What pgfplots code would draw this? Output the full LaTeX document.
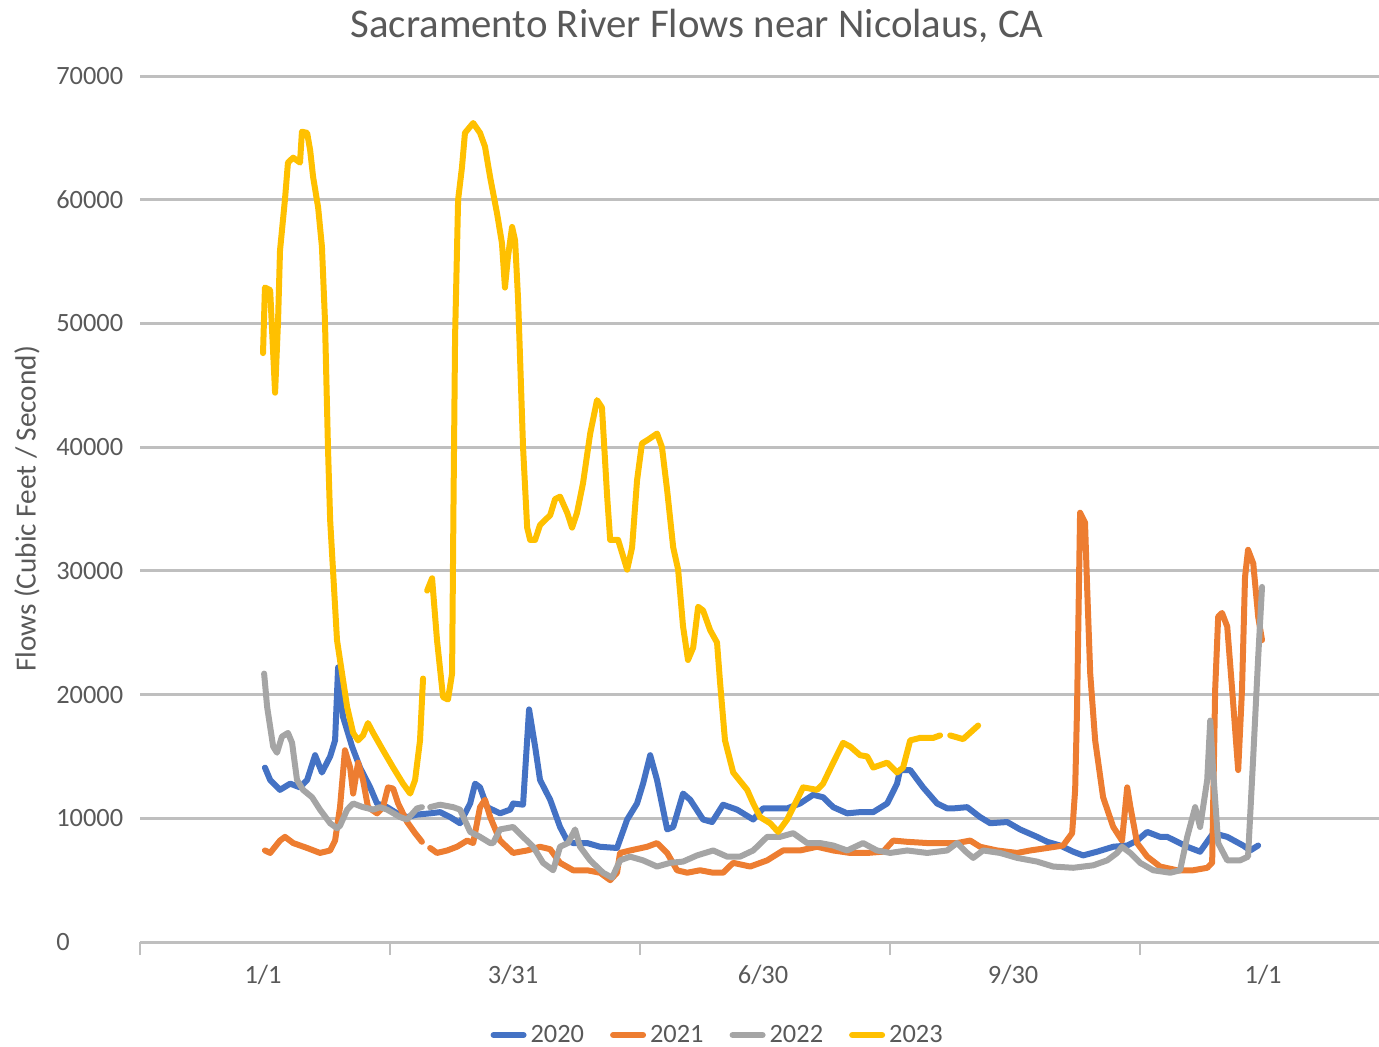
\documentclass[border=0pt]{standalone}
\usepackage{pgfplots}
\pgfplotsset{compat=1.18}
\usepackage{fontspec}
\setmainfont{Carlito}
\definecolor{c2020}{HTML}{4472C4}
\definecolor{c2021}{HTML}{ED7D31}
\definecolor{c2022}{HTML}{A5A5A5}
\definecolor{c2023}{HTML}{FFC000}
\definecolor{gridc}{HTML}{BFBFBF}
\definecolor{txt}{HTML}{595959}
\begin{document}
\begin{tikzpicture}
\useasboundingbox (0,0) rectangle (689.5pt,523pt);
\begin{axis}[
  at={(70pt,52pt)}, anchor=south west,
  width=619.5pt, height=433pt, scale only axis,
  xmin=-44.9, xmax=407.3, ymin=0, ymax=70000,
  axis x line*=bottom, axis y line*=left,
  y axis line style={draw=none},
  x axis line style={draw=gridc, line width=1.5pt, -},
  xtick={-44.9,46.4,137.6,228.9,320.1},
  xticklabels={},
  xtick style={draw=gridc, line width=1.2pt},
  tick align=outside,
  major tick length=6.5pt,
  ytick={0,10000,...,70000},
  ytick style={draw=none},
  ymajorgrids, grid style={draw=gridc, line width=1.5pt},
  extra x ticks={0,91.25,182.5,273.75,365},
  extra x tick labels={1/1,3/31,6/30,9/30,1/1},
  extra x tick style={major tick length=0pt, tick style={draw=none}},
  xticklabel style={anchor=center, yshift=-16.5pt},
  yticklabel style={anchor=west, xshift=-38.9pt},
  tick label style={font=\fontsize{13.2}{15}\selectfont, text=txt},
  /pgf/number format/assume math mode=true,
  /pgf/number format/1000 sep={},
  scaled y ticks=false,
  title={Sacramento River Flows near Nicolaus, CA},
  title style={at={(axis description cs:0.4496,1)}, anchor=center, yshift=19pt, font=\fontsize{20.4}{24}\selectfont, text=txt},
  ylabel={Flows (Cubic Feet / Second)},
  ylabel style={at={(axis description cs:-0.0912,0.5)}, anchor=center, font=\fontsize{14.6}{17}\selectfont, text=txt},
  legend style={at={(axis description cs:0.467,0)}, anchor=center, yshift=-46.5pt, draw=none, fill=none, font=\fontsize{13.2}{15}\selectfont, text=txt, /tikz/every even column/.append style={column sep=11pt}},
  legend columns=4,
  legend image code/.code={\draw[#1, line width=3pt] (0pt,0pt) -- (15pt,0pt);},
  unbounded coords=jump,
  every axis plot/.append style={line width=3pt, line join=round, line cap=round},
]
\addplot[c2020] coordinates {
(0.7,14100)(2.6,13100)(6.2,12300)(9.9,12800)(13.5,12500)(16.1,13100)(19.0,15100)(21.5,13700)(24.5,15000)(26.3,16300)(27.4,22200)(29.2,18200)(32.5,15800)(35.4,14100)(39.1,12500)(41.6,11200)(45.3,10900)(48.9,10400)(52.6,10100)(56.2,10300)(61.0,10400)(64.6,10500)(68.3,10100)(71.9,9600)(75.6,11200)(77.4,12800)(79.2,12500)(81.8,10900)(86.5,10400)(90.2,10700)(91.3,11200)(94.9,11100)(97.1,18800)(99.3,15800)(101.1,13100)(104.8,11500)(108.4,9300)(111.0,8200)(113.2,8000)(118.3,8000)(123.0,7700)(129.2,7600)(132.9,9900)(136.5,11200)(138.7,12800)(141.3,15100)(143.8,13100)(147.5,9100)(149.7,9300)(153.3,12000)(155.9,11500)(160.6,9900)(163.9,9700)(167.9,11100)(173.0,10700)(178.9,9900)(182.5,10800)(191.3,10800)(196.0,11200)(200.8,11900)(204.4,11700)(208.1,10900)(213.2,10400)(217.9,10500)(222.7,10500)(227.8,11200)(231.4,12800)(232.5,13900)(236.2,13900)(240.9,12500)(246.0,11200)(249.7,10800)(251.9,10800)(257.0,10900)(261.7,10100)(265.4,9600)(271.6,9700)(276.3,9100)(282.5,8500)(286.2,8100)(290.9,7800)(295.7,7300)(299.3,7000)(304.4,7300)(310.3,7700)(315.4,7800)(319.0,8200)(322.7,8900)(327.4,8500)(330.0,8500)(337.3,7700)(342.0,7300)(346.8,8800)(351.9,8500)(357.7,7800)(360.3,7400)(363.2,7800)
};
\addlegendentry{2020}
\addplot[c2021] coordinates {
(0.7,7400)(2.6,7200)(6.2,8200)(8.0,8500)(11.0,8000)(16.1,7600)(20.8,7200)(24.5,7400)(26.3,8200)(28.1,10900)(29.9,15500)(31.8,14100)(32.9,12000)(34.7,14500)(36.5,13100)(38.3,10900)(41.6,10400)(43.8,10900)(45.6,12500)(47.5,12400)(49.3,11200)(52.6,9700)(55.5,8800)(58.0,8100)(59.0,nan)(61.0,7600)(63.5,7200)(67.2,7400)(70.8,7700)(74.5,8200)(76.7,8000)(79.2,10900)(81.0,11500)(82.9,10100)(86.5,8200)(91.3,7200)(96.4,7400)(101.1,7700)(104.8,7500)(108.4,6400)(113.2,5800)(118.3,5800)(123.0,5600)(126.7,5000)(129.2,5600)(130.3,7200)(134.0,7400)(140.2,7700)(143.8,8000)(147.5,7200)(151.1,5800)(154.8,5600)(159.5,5800)(164.3,5600)(167.9,5600)(171.6,6400)(177.8,6100)(184.0,6600)(189.8,7400)(196.0,7400)(202.2,7700)(208.1,7400)(214.3,7200)(220.5,7200)(226.3,7300)(230.0,8200)(235.1,8100)(242.4,8000)(249.7,8000)(253.3,8000)(258.1,8200)(261.7,7700)(267.9,7400)(275.2,7200)(280.0,7400)(286.2,7600)(292.0,7800)(295.3,8800)(296.4,12300)(297.1,19000)(298.2,34700)(300.0,33900)(300.8,28500)(301.9,21700)(303.7,16300)(306.6,11700)(310.3,9300)(313.5,8200)(315.4,12500)(316.5,11000)(319.0,8000)(322.7,6900)(327.4,6100)(333.6,5800)(339.5,5800)(344.6,6000)(346.4,6400)(347.5,20400)(348.6,26300)(350.0,26600)(351.9,25500)(353.7,20400)(355.9,13900)(357.3,20400)(358.4,29500)(359.5,31700)(361.4,30600)(363.2,26300)(364.6,24400)
};
\addlegendentry{2021}
\addplot[c2022] coordinates {
(0.4,21700)(1.5,19000)(3.7,15800)(5.1,15300)(6.9,16600)(9.1,16900)(10.6,16100)(12.4,13100)(14.6,12300)(17.9,11700)(20.8,10700)(24.5,9600)(27.0,9200)(28.1,9400)(30.7,10700)(32.9,11200)(36.5,10900)(40.2,10700)(42.7,10900)(45.3,10700)(50.0,10100)(52.6,9900)(56.2,10800)(58.0,10900)(59.0,nan)(61.0,10900)(64.6,11100)(69.4,10900)(71.9,10700)(75.6,8900)(79.2,8500)(82.9,8000)(84.0,8000)(86.5,9100)(91.3,9300)(94.9,8500)(98.6,7700)(102.2,6400)(105.9,5800)(108.4,7700)(111.3,8000)(113.9,9100)(115.7,7700)(119.4,6600)(124.1,5600)(127.4,5200)(130.3,6600)(134.0,6900)(138.7,6600)(143.8,6100)(148.6,6400)(153.3,6500)(158.4,7000)(164.3,7400)(169.4,6900)(174.1,6900)(178.9,7400)(184.0,8500)(188.7,8500)(193.5,8800)(198.6,8000)(203.3,8000)(208.1,7800)(213.2,7400)(219.0,8000)(224.1,7400)(228.9,7200)(235.1,7400)(242.4,7200)(249.7,7400)(253.3,8000)(257.0,7200)(259.2,6800)(262.8,7400)(269.0,7200)(275.2,6800)(282.5,6500)(288.4,6100)(295.7,6000)(303.0,6200)(308.1,6600)(311.7,7200)(313.5,7700)(316.5,7200)(320.1,6400)(324.9,5800)(331.1,5600)(334.7,5800)(337.3,8500)(340.2,10900)(342.0,9300)(344.6,13100)(345.7,17900)(346.8,13700)(348.6,8000)(351.9,6600)(356.6,6600)(359.5,6900)(361.4,15000)(363.2,23000)(364.6,28700)
};
\addlegendentry{2022}
\addplot[c2023] coordinates {
(0,47600)(0.7,52900)(2.6,52700)(4.4,44400)(5.5,50300)(6.2,55900)(8.0,60000)(9.1,63000)(11.0,63400)(13.5,63000)(14.2,65500)(16.1,65400)(17.2,64000)(18.3,61800)(20.1,59400)(21.5,56200)(22.6,50300)(23.7,40000)(24.5,34100)(27.0,24400)(30.7,19000)(32.9,16900)(34.7,16300)(36.5,16700)(38.3,17700)(40.2,16900)(43.8,15500)(47.5,14100)(51.1,12800)(53.7,12000)(55.5,13100)(57.3,16300)(58.4,21300)(59.2,nan)(59.9,28400)(61.7,29400)(63.5,24400)(65.7,19800)(67.5,19600)(69.0,21700)(69.5,35000)(70.1,49000)(71.2,60000)(72.6,62600)(73.7,65400)(76.7,66200)(79.2,65400)(81.0,64300)(82.9,61800)(85.4,58900)(87.2,56500)(88.3,52900)(89.4,55400)(90.9,57800)(92.0,56700)(93.1,51900)(94.9,40000)(96.4,33500)(97.5,32500)(99.3,32500)(101.1,33700)(102.9,34100)(104.8,34500)(106.6,35800)(108.4,36000)(111.0,34700)(112.8,33500)(114.6,34700)(116.8,37100)(119.4,41100)(121.9,43800)(123.7,43200)(125.6,36000)(126.7,32500)(129.6,32500)(132.9,30100)(134.7,31900)(136.5,37300)(138.3,40300)(140.5,40600)(143.8,41100)(145.6,40000)(147.5,36500)(149.7,31900)(151.5,30100)(153.3,25500)(155.1,22800)(157.0,23800)(158.8,27100)(160.6,26800)(163.2,25200)(165.7,24200)(166.8,21000)(168.6,16300)(171.6,13700)(176.7,12300)(178.9,11200)(181.4,10100)(185.1,9600)(188.0,8900)(191.3,9900)(194.9,11500)(197.1,12500)(202.2,12300)(204.4,12800)(208.1,14500)(211.7,16100)(214.3,15800)(217.9,15100)(220.5,15000)(222.7,14100)(227.8,14500)(231.4,13700)(233.6,14100)(236.2,16300)(239.8,16500)(244.6,16500)(247.1,16700)(249.0,nan)(250.8,16700)(255.5,16400)(261.0,17500)
};
\addlegendentry{2023}
\end{axis}
\end{tikzpicture}
\end{document}
